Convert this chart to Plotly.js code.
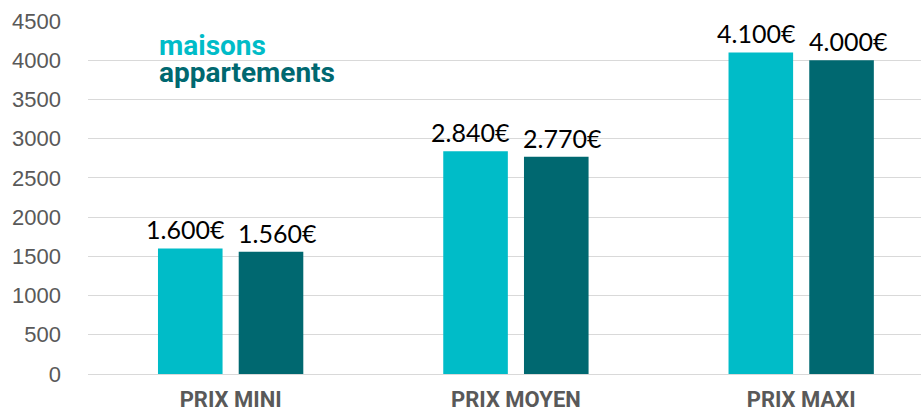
<!DOCTYPE html>
<html>
<head>
<meta charset="utf-8">
<script src="https://cdn.plot.ly/plotly-3.0.1.min.js"></script>
<style>
  html, body { margin: 0; padding: 0; background: #fff; }
  #chart { width: 921px; height: 417px; }
</style>
</head>
<body>
<div id="chart"></div>
<script>
// Prix au m² : maisons vs appartements
const categories = ['PRIX MINI', 'PRIX MOYEN', 'PRIX MAXI'];
const maisons = [1600, 2840, 4100];
const appartements = [1560, 2770, 4000];
const yTicks = [0, 500, 1000, 1500, 2000, 2500, 3000, 3500, 4000, 4500];

const COL_MAISONS = '#00BCC8';
const COL_APPART = '#006870';

// 1600 -> "1.600€"
function euro(v) {
  const s = String(Math.round(v));
  return s.replace(/\B(?=(\d{3})+(?!\d))/g, '.') + '€';
}

const labelFont = { family: 'Lato, Carlito, sans-serif', size: 25, color: '#000' };

const traces = [
  {
    type: 'bar', name: 'maisons', x: categories, y: maisons,
    marker: { color: COL_MAISONS }, hoverinfo: 'none'
  },
  {
    type: 'bar', name: 'appartements', x: categories, y: appartements,
    marker: { color: COL_APPART }, hoverinfo: 'none'
  }
];

// value labels above each bar, nudged apart from each other within a group
function valueLabels(values, shift) {
  return values.map((v, i) => ({
    xref: 'x', yref: 'y', x: categories[i], y: v,
    xanchor: 'center', yanchor: 'bottom', xshift: shift, yshift: 2,
    text: euro(v), showarrow: false, font: labelFont
  }));
}

const layout = {
  width: 921, height: 417,
  margin: { l: 88, r: 0, t: 21, b: 43 },
  paper_bgcolor: '#fff', plot_bgcolor: '#fff',
  showlegend: false,
  barmode: 'group',
  bargap: 0.434,
  bargroupgap: 0.2,
  xaxis: {
    range: [-0.5, 2.42],
    showgrid: false, zeroline: false, showline: false,
    ticks: '',
    ticklabelstandoff: 10,
    tickfont: { family: 'Roboto, sans-serif', size: 22, color: '#595959', weight: 'bold' }
  },
  yaxis: {
    range: [0, 4500],
    tickvals: yTicks,
    ticktext: yTicks.map(String),
    showgrid: true, gridcolor: '#D9D9D9', gridwidth: 1,
    zeroline: true, zerolinecolor: '#D9D9D9', zerolinewidth: 1,
    showline: false, ticks: '',
    ticklabelstandoff: 26,
    tickfont: { family: 'Liberation Sans, Arial, sans-serif', size: 22, color: '#595959' }
  },
  annotations: [
    {
      xref: 'paper', yref: 'paper', x: 0.083, y: 0.93, xanchor: 'left', yanchor: 'middle',
      text: '<b>maisons</b>', showarrow: false,
      font: { family: 'Roboto, sans-serif', size: 28, color: COL_MAISONS }
    },
    {
      xref: 'paper', yref: 'paper', x: 0.083, y: 0.853, xanchor: 'left', yanchor: 'middle',
      text: '<b>appartements</b>', showarrow: false,
      font: { family: 'Roboto, sans-serif', size: 28, color: COL_APPART }
    }
  ].concat(valueLabels(maisons, -45), valueLabels(appartements, 47))
};

Plotly.newPlot('chart', traces, layout, { displayModeBar: false, staticPlot: true });
</script>
</body>
</html>
